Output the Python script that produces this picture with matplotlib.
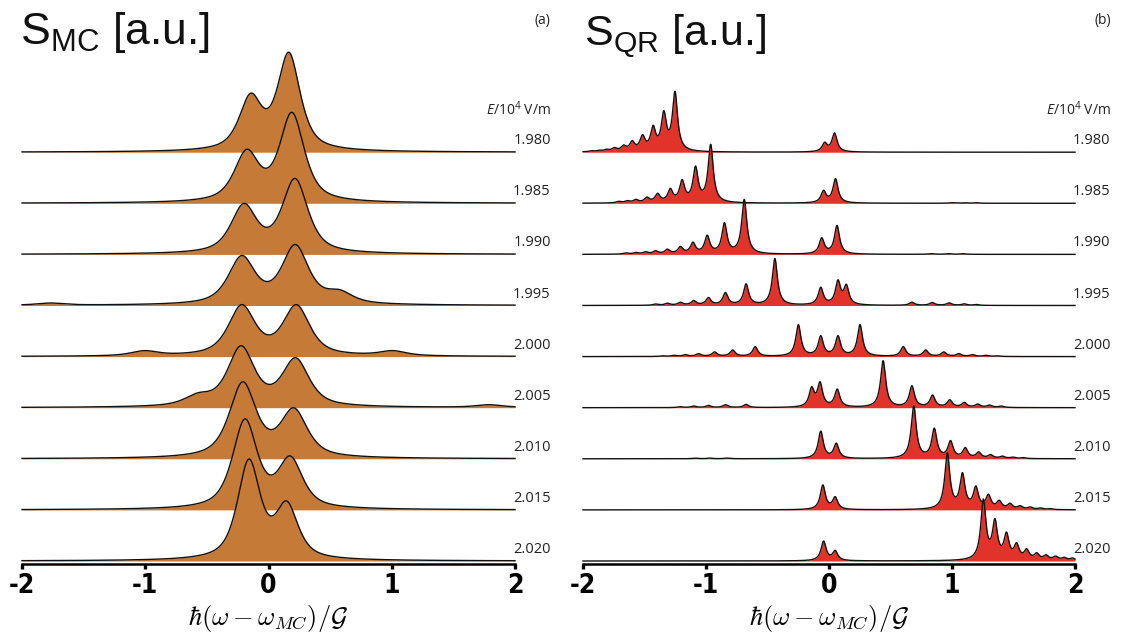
import numpy as np
import matplotlib
matplotlib.use("Agg")
import matplotlib.pyplot as plt
from matplotlib import font_manager
from matplotlib.font_manager import FontProperties

# ---------------- data ----------------
fields = ["1.980", "1.985", "1.990", "1.995", "2.000", "2.005", "2.010", "2.015", "2.020"]
tick_values = [-2, -1, 0, 1, 2]
tick_labels = ["-2", "-1", "0", "1", "2"]

# panel (a): S_MC peaks (position, peak height [a.u.], half width)
mc_peak_x = [
    [-0.145, 0.165],
    [-0.177, 0.19],
    [-0.2, 0.215],
    [-1.77, -0.217, 0.217, 0.574],
    [-1.006, -0.217, 0.226, 1.009],
    [-0.571, -0.223, 0.22, 1.79],
    [-0.209, 0.206],
    [-0.191, 0.177],
    [-0.159, 0.148],
]
mc_peak_h = [
    [59, 100],
    [54, 91],
    [51, 76],
    [2.5, 50, 61, 16],
    [6, 52, 52, 6],
    [15, 62, 50, 3],
    [77, 51],
    [91, 54],
    [102, 60],
]
mc_width = [0.11, 0.12, 0.125, 0.13, 0.13, 0.13, 0.13, 0.12, 0.11]

# panel (b): S_QR peaks
qr_peak_x = [
    [-1.93, -1.87, -1.81, -1.745, -1.67, -1.60, -1.516, -1.43, -1.343, -1.252, -0.035, 0.045],
    [-1.71, -1.64, -1.57, -1.48, -1.393, -1.29, -1.194, -1.085, -0.962, -0.044, 0.053, 1.0, 1.1, 1.2],
    [-1.65, -1.57, -1.49, -1.41, -1.314, -1.208, -1.106, -0.99, -0.85, -0.689, -0.059, 0.065, 0.83, 0.97, 1.09],
    [-1.41, -1.314, -1.208, -1.10, -0.98, -0.842, -0.674, -0.44, -0.067, 0.073, 0.141, 0.674, 0.839, 0.977, 1.10, 1.20],
    [-1.35, -1.26, -1.167, -1.06, -0.93, -0.783, -0.60, -0.249, -0.067, 0.073, 0.252, 0.604, 0.786, 0.933, 1.056, 1.167, 1.276, 1.37],
    [-1.21, -1.10, -0.98, -0.842, -0.674, -0.141, -0.073, 0.067, 0.44, 0.674, 0.842, 0.982, 1.10, 1.21, 1.305, 1.40],
    [-1.09, -0.97, -0.83, -0.067, 0.059, 0.689, 0.856, 0.988, 1.108, 1.217, 1.314, 1.41, 1.496, 1.58],
    [-0.05, 0.05, 0.962, 1.085, 1.194, 1.296, 1.384, 1.472, 1.554, 1.636, 1.72, 1.80],
    [-0.044, 0.05, 1.255, 1.349, 1.443, 1.525, 1.607, 1.689, 1.765, 1.842, 1.912, 1.98],
]
qr_peak_h = [
    [1.5, 2, 3, 4.7, 7.3, 11.6, 17.6, 27, 41.6, 61, 10, 19.3],
    [2, 2.7, 4, 6.3, 10, 15, 23.7, 37.3, 59, 13, 24.7, 0.6, 0.6, 0.6],
    [1.5, 2, 2.7, 3.7, 5.3, 8, 12.3, 19.3, 31.7, 55, 16.7, 29, 0.8, 0.8, 0.8],
    [1.5, 2.3, 3.3, 5, 8, 13, 21.7, 47, 18.3, 25.7, 21.3, 3.3, 3, 2.7, 1.7, 1],
    [0.8, 1.3, 2, 3, 4.7, 6.7, 10, 32, 21, 21, 32, 10, 6.7, 4.7, 3, 2, 1.3, 0.8],
    [1, 1.7, 2.3, 3, 3.3, 21, 26, 18.7, 47, 22, 12.7, 8, 5.3, 3.7, 2.7, 1.7],
    [0.7, 0.7, 0.7, 27.7, 15.7, 53, 30.7, 18.3, 11.3, 7, 4.3, 2.7, 1.7, 1.2],
    [25, 13.3, 57, 37.3, 24, 15.7, 9.7, 6.7, 4.3, 3, 2, 1.3],
    [20, 10.7, 62, 42.4, 29, 18.3, 12.3, 8.3, 6.3, 5, 3.7, 3],
]
qr_width = 0.025

# ---------------- style ----------------
W, H = 1140, 642
ROW_STEP = 51.1          # vertical offset between spectra (px)
BASE_PX = 561            # baseline of last spectrum (px from top)
MC_COLOR = "#C67A37"
QR_COLOR = "#E2332A"

plt.rcParams["font.family"] = ["Liberation Sans", "DejaVu Sans"]
plt.rcParams["mathtext.fontset"] = "custom"
plt.rcParams["mathtext.rm"] = "Open Sans"
plt.rcParams["mathtext.it"] = "Open Sans:italic"
plt.rcParams["mathtext.bf"] = "Open Sans:bold"


def pick_condensed_bold():
    for f in font_manager.fontManager.ttflist:
        st = f.stretch
        cond = ("Narrow" in f.name or "Condensed" in f.name or
                (isinstance(st, str) and "condensed" in st) or
                (isinstance(st, (int, float)) and st < 500))
        w = f.weight
        bold = (w in ("bold", "heavy", "black", "extra bold", "demibold")) or \
               (isinstance(w, (int, float)) and w >= 700)
        if cond and bold:
            return f.fname
    return None


cond_path = pick_condensed_bold()
if cond_path:
    tick_fp = FontProperties(fname=cond_path, size=19)
else:
    tick_fp = FontProperties(family="DejaVu Sans", weight="bold", size=15)


def profile(x, centers, heights, w, eta):
    c = np.asarray(centers, float)
    h = np.asarray(heights, float)

    def shape(d):
        r2 = (d / w) ** 2
        return eta / (1 + r2) + (1 - eta) * np.exp(-np.log(2) * r2)

    M = shape(c[:, None] - c[None, :])
    amps = np.clip(np.linalg.solve(M, h), 0, None)
    return (amps[None, :] * shape(x[:, None] - c[None, :])).sum(axis=1)


fig = plt.figure(figsize=(W / 100, H / 100), dpi=100)
bottom = (H - BASE_PX) / H
height = BASE_PX / H

panels = [
    dict(x0=22, x1=515, color=MC_COLOR, px=mc_peak_x, ph=mc_peak_h, w=mc_width, eta=0.7,
         sub="MC", tag="(a)", tx=-2.016, ty=BASE_PX - 44, tsize=32),
    dict(x0=583, x1=1075, color=QR_COLOR, px=qr_peak_x, ph=qr_peak_h,
         w=[qr_width] * len(fields), eta=1.0,
         sub="QR", tag="(b)", tx=-1.99, ty=BASE_PX - 45, tsize=31),
]

x = np.linspace(-2, 2, 3000)
n = len(fields)
for p in panels:
    ax = fig.add_axes([p["x0"] / W, bottom, (p["x1"] - p["x0"]) / W, height])
    ax.set_xlim(-2, 2)
    ax.set_ylim(0, BASE_PX)
    ax.patch.set_visible(False)
    for i in range(n):
        base = (n - 1 - i) * ROW_STEP
        y = profile(x, p["px"][i], p["ph"][i], p["w"][i], p["eta"])
        ax.fill_between(x, base, base + y, color=p["color"], lw=0, zorder=2 + 2 * i, clip_on=False)
        ax.plot(x, base + y, color="#111111", lw=1.0, zorder=3 + 2 * i, clip_on=False)
        ax.text(2.29, base + 8, fields[i], ha="right", va="baseline", fontsize=10.5,
                family=["Open Sans", "DejaVu Sans"], color="#222222")
    ax.text(2.29, BASE_PX - 115, r"$E/10^4$ V/m", ha="right", va="baseline", fontsize=10,
            family=["Open Sans", "DejaVu Sans"], color="#222222")
    ax.text(2.29, BASE_PX - 24, p["tag"], ha="right", va="baseline", fontsize=10,
            family=["Open Sans", "DejaVu Sans"], color="#222222")
    ax.text(p["tx"], p["ty"], r"S$_{\mathregular{%s}}$ [a.u.]" % p["sub"], ha="left",
            va="baseline", fontsize=p["tsize"], color="#111111")

    for s in ("top", "right", "left"):
        ax.spines[s].set_visible(False)
    ax.spines["bottom"].set_position(("data", -2.5))
    ax.spines["bottom"].set_linewidth(1.8)
    ax.set_yticks([])
    ax.set_xticks(tick_values)
    ax.set_xticklabels(tick_labels, fontproperties=tick_fp)
    ax.tick_params(axis="x", direction="out", length=3.5, width=2.4, pad=3)
    ax.set_xlabel(r"$\hbar(\omega-\omega_{MC})/\mathcal{G}$", fontsize=19,
                  math_fontfamily="cm", labelpad=3)

fig.savefig("out.png", dpi=100)
